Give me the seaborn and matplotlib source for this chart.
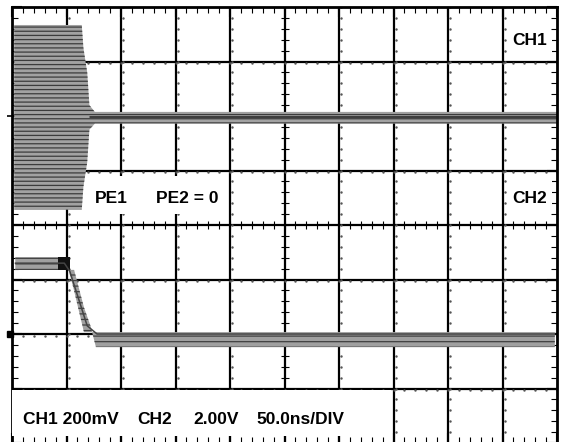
import numpy as np
import pandas as pd
import matplotlib
matplotlib.use('Agg')
import matplotlib.pyplot as plt
import seaborn as sns
from matplotlib.patches import Rectangle

# time base 50 ns/div, CH1 200 mV/div (offset +2 div), CH2 2 V/div (offset -2 div)
CH1_SCALE_MV = 200
CH2_SCALE_V = 2.0
CH1_OFFSET_DIV = 6
CH2_OFFSET_DIV = 2

# CH1: oscillating burst that collapses to a flat line (envelope of the persistence trace)
ch1_env_t = [2, 64, 65.5, 69, 71, 76, 500]
ch1_env_hi_mv = [334, 334, 250, 160, 40, 15, 15]
ch1_env_lo_mv = [-344, -344, -260, -170, -50, -28, -28]
ch1_mid_t = [72, 500]
ch1_mid_mv = [-3, -3]

# CH2: high level, falling edge, low level
ch2_env_t = [3, 49, 52, 57, 66, 72, 77, 498]
ch2_env_hi_v = [2.82, 2.82, 2.35, 1.58, 0.07, 0.07, 0.07, 0.07]
ch2_env_lo_v = [2.35, 2.35, 2.35, 2.35, 0.98, 0.30, -0.48, -0.48]
ch2_mid_t = [3, 48, 53, 69, 78, 498]
ch2_mid_v = [2.6, 2.6, 2.3, 0.3, 0.0, 0.0]
ch2_dense_t = [42, 53]

scope_labels = ['CH1 200mV', 'CH2', '2.00V', '50.0ns/DIV']


def to_div1(mv):
    return CH1_OFFSET_DIV + np.asarray(mv, dtype=float) / CH1_SCALE_MV


def to_div2(v):
    return CH2_OFFSET_DIV + np.asarray(v, dtype=float) / CH2_SCALE_V


def draw_graticule(ax):
    for x in range(50, 500, 50):
        ax.axvline(x, color='black', lw=1.6, zorder=1)
    for y in range(1, 8):
        ax.axhline(y, color='black', lw=1.6, zorder=1)
    minor_x = np.arange(0, 501, 10)
    minor_y = np.arange(0, 8.01, 0.2)
    # centre cross-hair ticks
    ax.plot(minor_x, np.full(minor_x.size, 4.0), ls='none', marker='|', ms=6, mew=0.8, color='black', zorder=1)
    ax.plot(np.full(minor_y.size, 250.0), minor_y, ls='none', marker='_', ms=6, mew=0.8, color='black', zorder=1)
    # faint dots along the other graticule lines
    for x in range(50, 500, 50):
        if x != 250:
            ax.plot(np.full(minor_y.size, x + 2.0), minor_y, ls='none', marker='.', ms=1.5, color='#555555', zorder=1)
    for y in range(1, 8):
        if y != 4:
            ax.plot(minor_x, np.full(minor_x.size, y - 0.03), ls='none', marker='.', ms=1.5, color='#555555', zorder=1)

    ax.set_xticks(np.arange(0, 501, 50))
    ax.set_yticks(np.arange(0, 9))
    ax.set_xticks(minor_x, minor=True)
    ax.set_yticks(minor_y, minor=True)
    ax.tick_params(which='both', direction='in', top=True, bottom=True, left=True, right=True,
                   labelbottom=False, labelleft=False, color='black')
    ax.tick_params(which='major', length=7, width=1.5)
    ax.tick_params(which='minor', length=4, width=0.8)
    for s in ax.spines.values():
        s.set_color('black')
        s.set_linewidth(2)


def draw_traces(ax):
    ax.fill_between(ch1_env_t, to_div1(ch1_env_hi_mv), to_div1(ch1_env_lo_mv),
                    facecolor='#a2a2a2', edgecolor='#3c3c3c', hatch='----', linewidth=0, zorder=2)
    ax.fill_between(ch2_env_t, to_div2(ch2_env_hi_v), to_div2(ch2_env_lo_v),
                    facecolor='#a0a0a0', edgecolor='#404040', hatch='---', linewidth=0, zorder=2)
    ax.fill_between(ch2_dense_t, to_div2([2.83, 2.83]), to_div2([2.34, 2.34]),
                    color='#111111', linewidth=0, zorder=2.2)

    mid = pd.concat([
        pd.DataFrame({'time_ns': ch1_mid_t, 'level_div': to_div1(ch1_mid_mv), 'channel': 'CH1'}),
        pd.DataFrame({'time_ns': ch2_mid_t, 'level_div': to_div2(ch2_mid_v), 'channel': 'CH2'}),
    ])
    sns.lineplot(data=mid, x='time_ns', y='level_div', hue='channel', units='channel', estimator=None,
                 palette={'CH1': '#222222', 'CH2': '#444444'}, lw=1.1, legend=False, sort=False, ax=ax, zorder=2.3)

    # channel ground markers on the left edge
    ax.plot([-1.5], [CH2_OFFSET_DIV], marker='s', ms=5, color='black', clip_on=False, zorder=6)
    ax.plot([-1.5], [CH1_OFFSET_DIV], marker='_', ms=5, mew=1.2, color='black', clip_on=False, zorder=6)


def draw_labels(ax):
    font = dict(fontsize=12.5, fontweight='bold', color='black', zorder=5)
    boxes = [(454, 7.05, 41, 0.47), (454, 4.22, 41, 0.68), (69, 4.2, 47, 0.7),
             (122, 4.2, 75, 0.7), (0, 0.12, 348, 0.85)]
    for x0, y0, w, h in boxes:
        ax.add_patch(Rectangle((x0, y0), w, h, facecolor='white', edgecolor='none', zorder=4))
    ax.text(475, 7.385, 'CH1', ha='center', va='center', **font)
    ax.text(475, 4.486, 'CH2', ha='center', va='center', **font)
    ax.text(91, 4.495, 'PE1', ha='center', va='center', **font)
    ax.text(161, 4.495, 'PE2 = 0', ha='center', va='center', **font)
    for x, label in zip([10, 114.5, 166, 224], scope_labels):
        ax.text(x, 0.44, label, ha='left', va='center', **font)


def main():
    sns.set_theme(style='white')
    plt.rcParams['font.family'] = ['Liberation Sans', 'DejaVu Sans']
    plt.rcParams['hatch.linewidth'] = 0.9
    fig = plt.figure(figsize=(5.61, 4.42), dpi=100)
    ax = fig.add_axes([12 / 561, -1 / 442, 545 / 561, 436 / 442])
    ax.set_xlim(0, 500)
    ax.set_ylim(0, 8)
    draw_graticule(ax)
    draw_traces(ax)
    draw_labels(ax)
    ax.set_xlabel('')
    ax.set_ylabel('')
    fig.savefig('out.png', dpi=100, facecolor='white')


if __name__ == '__main__':
    main()
